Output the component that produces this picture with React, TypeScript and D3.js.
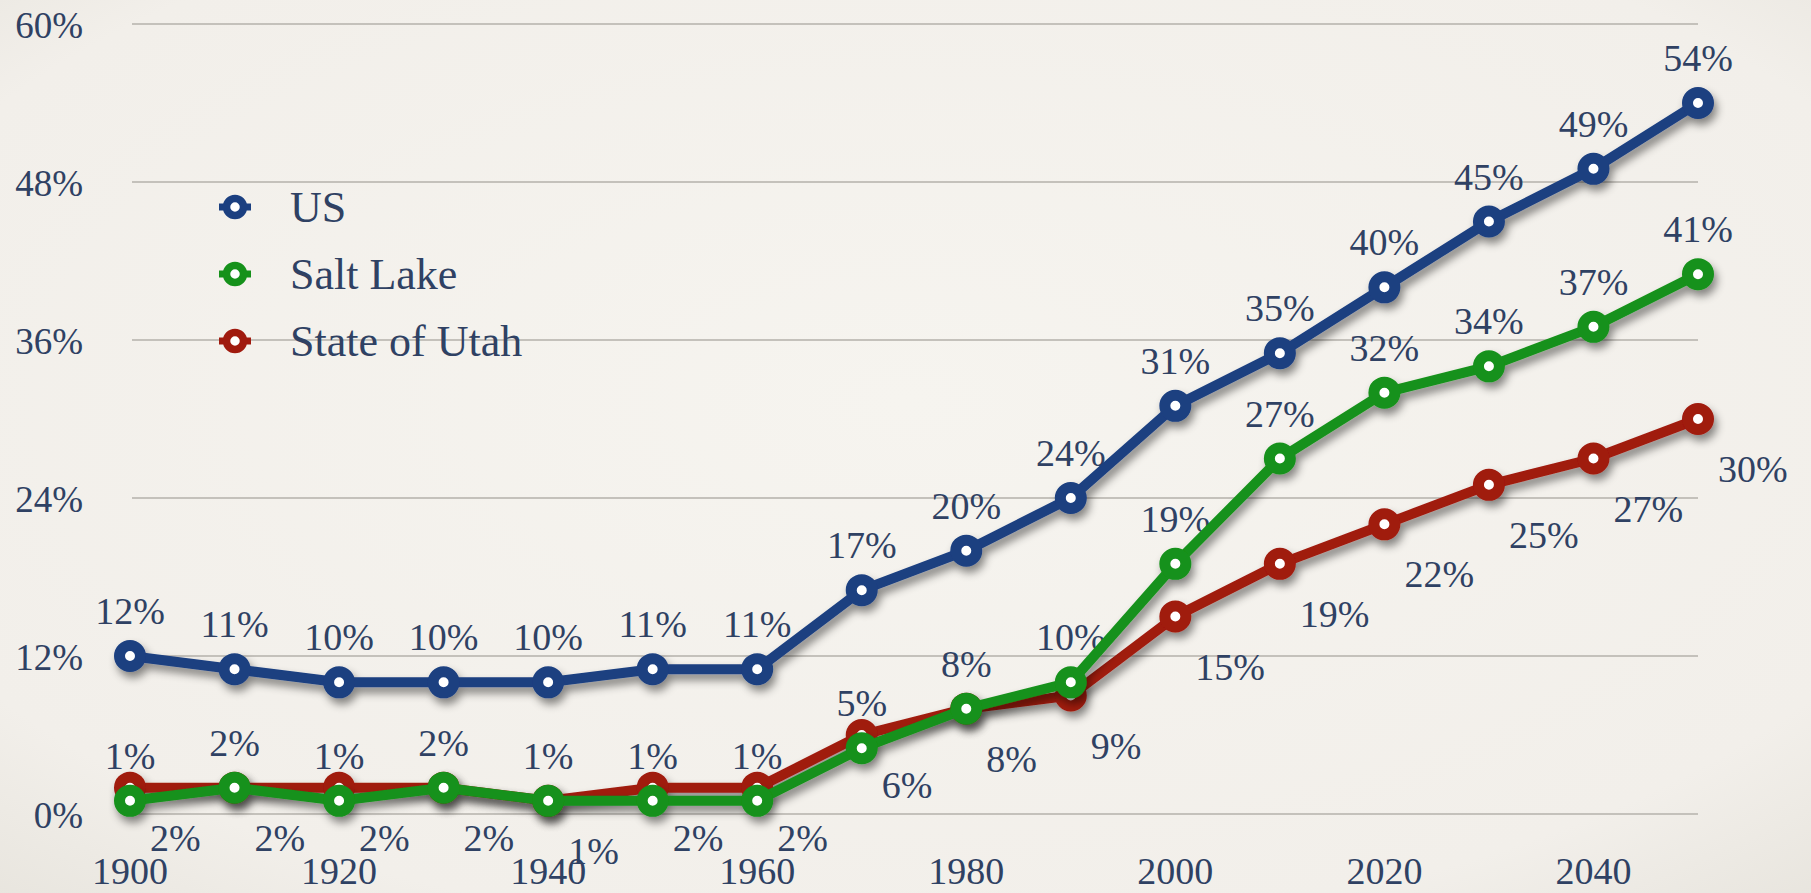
import React from 'react';
import * as d3 from 'd3';

const years = [1900, 1910, 1920, 1930, 1940, 1950, 1960, 1970, 1980, 1990, 2000, 2010, 2020, 2030, 2040, 2050];
const usValues = [12, 11, 10, 10, 10, 11, 11, 17, 20, 24, 31, 35, 40, 45, 49, 54];
const saltLakeValues = [1, 2, 1, 2, 1, 1, 1, 5, 8, 10, 19, 27, 32, 34, 37, 41];
const utahValues = [2, 2, 2, 2, 1, 2, 2, 6, 8, 9, 15, 19, 22, 25, 27, 30];
const yTicks = [0, 12, 24, 36, 48, 60];
const xTicks = [1900, 1920, 1940, 1960, 1980, 2000, 2020, 2040];
const seriesNames = ['US', 'Salt Lake', 'State of Utah'];

const WIDTH = 1811;
const HEIGHT = 893;
const FONT = '"Liberation Serif", "DejaVu Serif", serif';
const TEXT = '#2f4163';

const COLORS: Record<string, string> = {
  US: '#1b3f80',
  'Salt Lake': '#15911a',
  'State of Utah': '#a01a0e',
};

export default function App() {
  const x = d3.scaleLinear().domain([1900, 2050]).range([130, 1698]);
  const y = d3.scaleLinear().domain([0, 60]).range([814, 24]);

  const line = d3
    .line<number>()
    .x((_, i) => x(years[i]))
    .y((d) => y(d));

  // drawn bottom to top: Utah, Salt Lake, US
  const series = [
    { name: 'State of Utah', values: utahValues, pos: 'below' },
    { name: 'Salt Lake', values: saltLakeValues, pos: 'above' },
    { name: 'US', values: usValues, pos: 'above' },
  ];

  return (
    <svg
      width={WIDTH}
      height={HEIGHT}
      style={{ position: 'absolute', left: 0, top: 0, display: 'block' }}
      fontFamily={FONT}
    >
      <defs>
        <radialGradient id="bg" cx="50%" cy="45%" r="75%">
          <stop offset="0%" stopColor="#f6f4ef" />
          <stop offset="80%" stopColor="#f2efea" />
          <stop offset="100%" stopColor="#e8e5de" />
        </radialGradient>
        <filter id="shadow" x="-10%" y="-10%" width="120%" height="130%">
          <feDropShadow dx="3" dy="6" stdDeviation="4" floodColor="#000" floodOpacity="0.45" />
        </filter>
      </defs>
      <rect width={WIDTH} height={HEIGHT} fill="url(#bg)" />

      {/* grid + y labels */}
      {yTicks.map((t) => (
        <g key={t}>
          <line x1={132} x2={1698} y1={y(t)} y2={y(t)} stroke="#c4c1bb" strokeWidth={2} />
          <text x={83} y={y(t) + 14} textAnchor="end" fontSize={37} fill={TEXT}>
            {t}%
          </text>
        </g>
      ))}

      {/* x labels */}
      {xTicks.map((t) => (
        <text key={t} x={x(t)} y={884} textAnchor="middle" fontSize={38} fill={TEXT}>
          {t}
        </text>
      ))}

      {/* value labels */}
      {series.map((s) =>
        s.values.map((v, i) =>
          s.pos === 'above' ? (
            <text
              key={s.name + i}
              x={x(years[i])}
              y={y(v) - 32}
              textAnchor="middle"
              fontSize={38}
              fill={TEXT}
            >
              {v}%
            </text>
          ) : (
            <text
              key={s.name + i}
              x={x(years[i]) + 20}
              y={y(v) + 63}
              textAnchor="start"
              fontSize={38}
              fill={TEXT}
            >
              {v}%
            </text>
          )
        )
      )}

      {/* lines */}
      {series.map((s) => (
        <g key={s.name} filter="url(#shadow)">
          <path
            d={line(s.values) || ''}
            fill="none"
            stroke={COLORS[s.name]}
            strokeWidth={10}
            strokeLinejoin="round"
          />
          {s.values.map((v, i) => (
            <circle
              key={i}
              cx={x(years[i])}
              cy={y(v)}
              r={10.5}
              fill="#ffffff"
              stroke={COLORS[s.name]}
              strokeWidth={11}
            />
          ))}
        </g>
      ))}

      {/* legend */}
      {seriesNames.map((name, i) => {
        const ly = 207 + i * 67;
        return (
          <g key={name}>
            <line x1={219} x2={251} y1={ly} y2={ly} stroke={COLORS[name]} strokeWidth={7} />
            <circle cx={235} cy={ly} r={8.5} fill="#ffffff" stroke={COLORS[name]} strokeWidth={7.5} />
            <text x={290} y={ly + 15} fontSize={44} fill={TEXT}>
              {name}
            </text>
          </g>
        );
      })}
    </svg>
  );
}
